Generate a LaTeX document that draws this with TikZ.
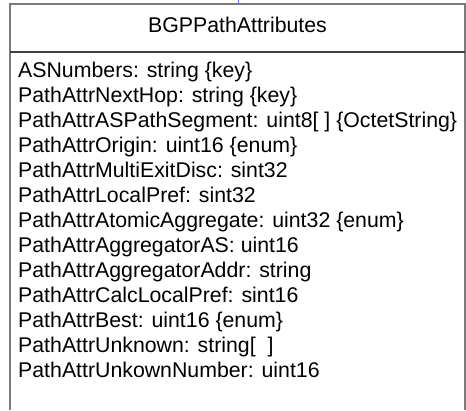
\documentclass[tikz,border=0pt]{standalone}
\usepackage{fontspec}
\setmainfont{Liberation Sans}
\usetikzlibrary{positioning}
\definecolor{boxgray}{HTML}{7A7A7A}
\definecolor{rulegray}{HTML}{404040}
\definecolor{linkblue}{HTML}{6B6BFF}

\begin{document}
\begin{tikzpicture}[x=1pt,y=-1pt,
  classname/.style={inner sep=0pt,font=\fontsize{21.3}{25}\selectfont},
  attrlist/.style={inner sep=0pt,align=left,font=\fontsize{21.3}{25}\selectfont},
  frame/.style={draw=boxgray,line width=1.4pt},
  divider/.style={draw=rulegray,line width=1.4pt}]
\useasboundingbox (0,0) rectangle (466,410);
% class box, open at the bottom
\coordinate (tl) at (10,4);
\coordinate (tr) at (465,4);
\coordinate (bl) at (10,410);
\coordinate (br) at (465,410);
\coordinate (dl) at (10,52);
\coordinate (dr) at (465,52);
\draw[frame] (bl)--(tl)--(tr)--(br);
\draw[divider] (dl)--(dr);
\node[classname,anchor=base] (name) at (237.5,32) {BGPPathAttributes};
\node[attrlist,anchor=north west] (attrs) at (18,61.5) {ASNumbers: string \{key\}\\
PathAttrNextHop: string \{key\}\\
PathAttrASPathSegment: uint8[ ] \{OctetString\}\\
PathAttrOrigin: uint16 \{enum\}\\
PathAttrMultiExitDisc: sint32\\
PathAttrLocalPref: sint32\\
PathAttrAtomicAggregate: uint32 \{enum\}\\
PathAttrAggregatorAS: uint16\\
PathAttrAggregatorAddr: string\\
PathAttrCalcLocalPref: sint16\\
PathAttrBest: uint16 \{enum\}\\
PathAttrUnknown: string[\ \ ]\\
PathAttrUnkownNumber: uint16};
% link stub above the box
\coordinate (linktop) at (238,0);
\coordinate (linkfoot) at (238,4);
\draw[linkblue,line width=1pt] (linkfoot)--(linktop);
\end{tikzpicture}
\end{document}
